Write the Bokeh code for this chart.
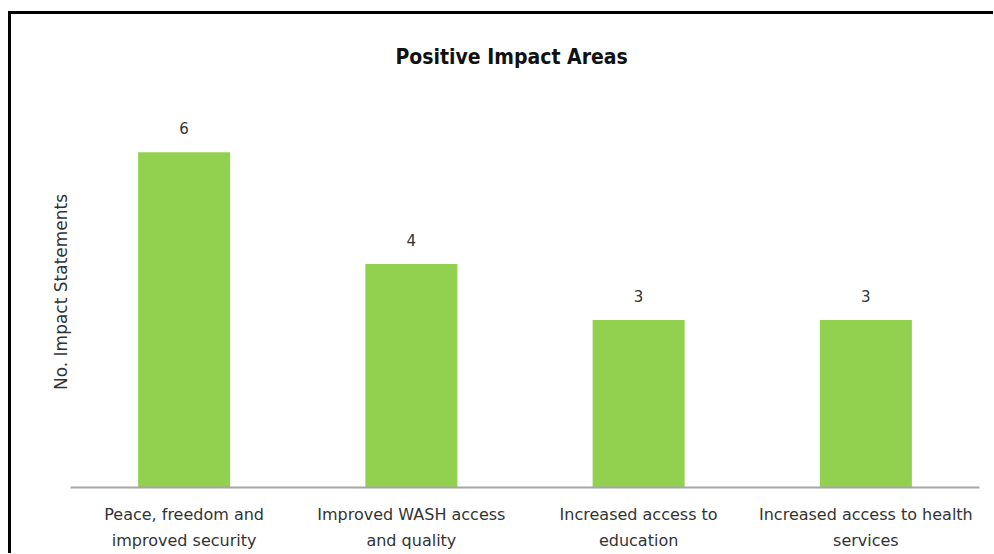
from bokeh.plotting import figure
from bokeh.models import ColumnDataSource, LabelSet, Range1d, FixedTicker
from bokeh.core.properties import value
from bokeh.embed import file_html
from bokeh.resources import INLINE

categories = [
    "Peace, freedom and\nimproved security",
    "Improved WASH access\nand quality",
    "Increased access to\neducation",
    "Increased access to health\nservices",
]
counts = [6, 4, 3, 3]
value_labels = [str(c) for c in counts]

source = ColumnDataSource(data=dict(cat=categories, count=counts, label=value_labels))

p = figure(
    x_range=categories,
    y_range=Range1d(0, 7),
    width=985,
    height=542,
    output_backend="svg",
    toolbar_location=None,
    title="Positive Impact Areas",
    min_border_left=59,
    min_border_right=17,
    min_border_top=82,
    min_border_bottom=69,
)
p.styles = {"border-left": "3px solid black", "border-top": "3px solid black",
            "margin-top": "11px", "margin-left": "8px"}

p.vbar(x="cat", top="count", width=0.405, source=source, fill_color="#92D050", line_color=None)

labels = LabelSet(x="cat", y="count", text="label", source=source, y_offset=24,
                  text_align="center", text_baseline="middle",
                  text_font_size="15px", text_color="#333333", text_font=value("DejaVu Sans"))
p.add_layout(labels)

p.title.align = "left"
p.title.offset = 325
p.title.text_font = "DejaVu Sans Condensed"
p.title.text_font_size = "21px"
p.title.text_font_style = "bold"
p.title.text_color = "#111111"
p.title.standoff = 55

p.outline_line_color = None
p.grid.grid_line_color = None
p.background_fill_color = "white"
p.border_fill_color = "white"

xa = p.xaxis[0]
xa.axis_line_color = "#A6A6A6"
xa.axis_line_width = 2
xa.major_tick_line_color = None
xa.minor_tick_line_color = None
xa.major_label_standoff = 11
xa.major_label_text_font = "DejaVu Sans"
xa.major_label_text_font_size = "16px"
xa.major_label_text_color = "#333333"
xa.major_label_text_line_height = 1.4

ya = p.yaxis[0]
ya.ticker = FixedTicker(ticks=[])
ya.axis_line_color = None
ya.major_tick_line_color = None
ya.minor_tick_line_color = None
ya.axis_label = "No. Impact Statements"
ya.axis_label_text_font = "DejaVu Sans"
ya.axis_label_text_font_size = "17px"
ya.axis_label_text_font_style = "normal"
ya.axis_label_text_color = "#333333"
ya.axis_label_standoff = 0

open("out.html", "w").write(file_html(p, INLINE))
